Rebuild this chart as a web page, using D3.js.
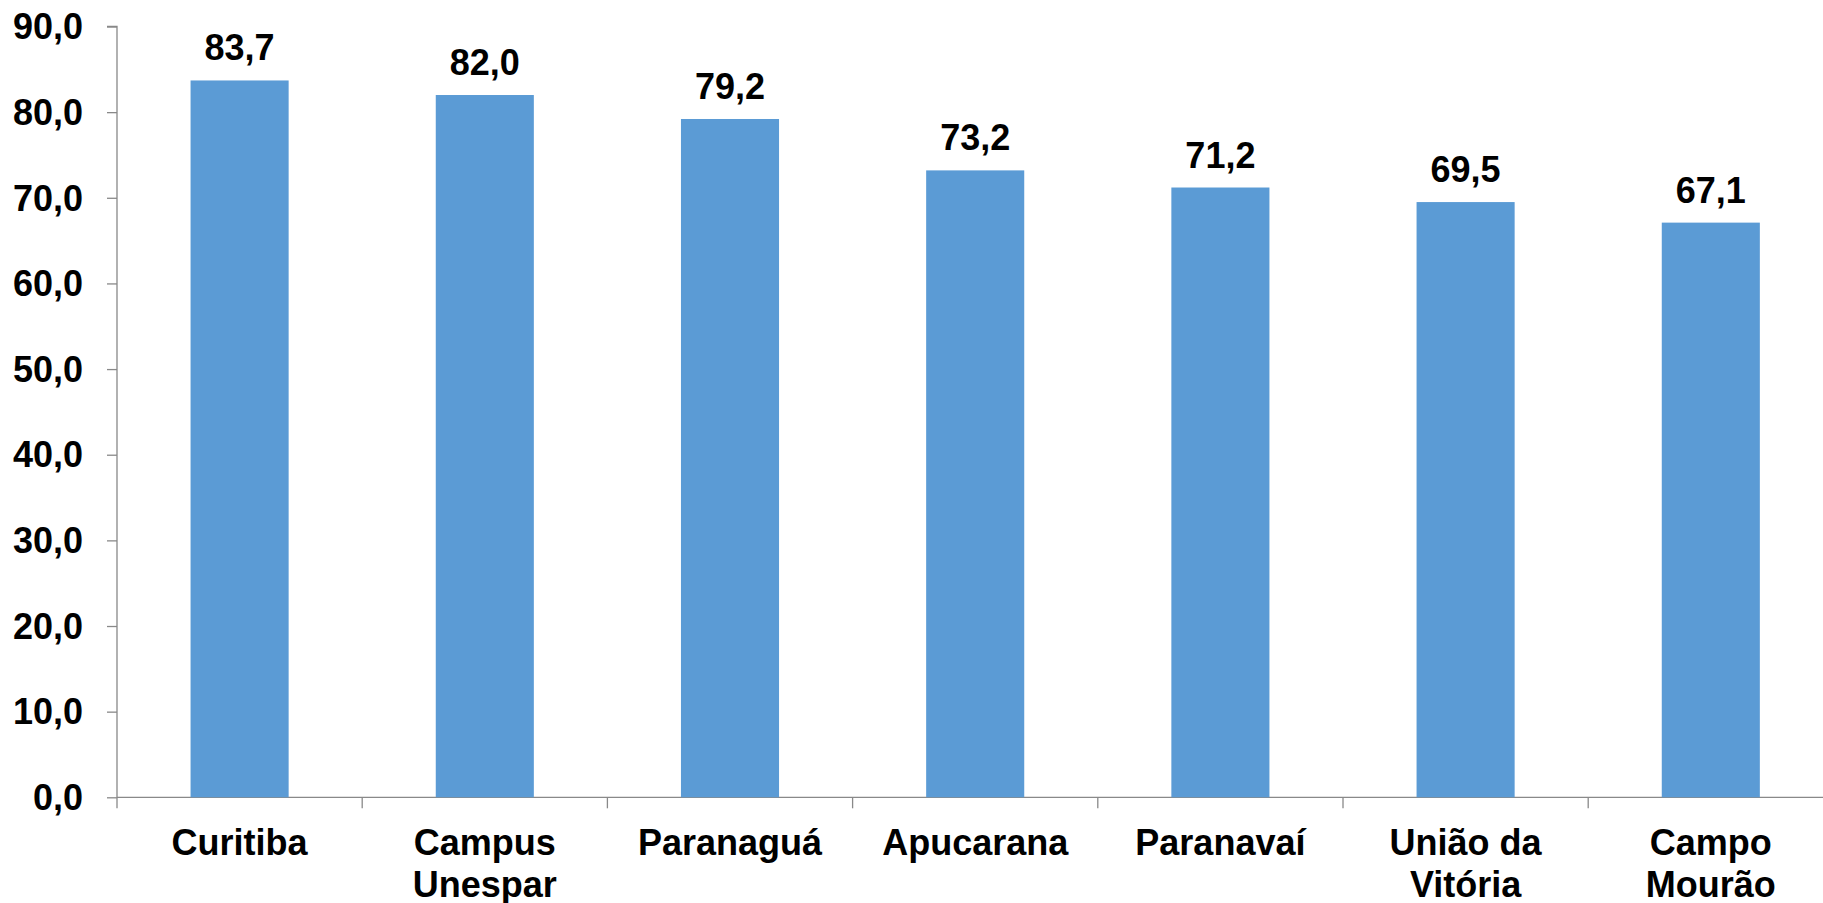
<!DOCTYPE html>
<html>
<head>
<meta charset="utf-8">
<script src="https://cdn.jsdelivr.net/npm/d3@7"></script>
<style>
  body { margin: 0; background: #fff; overflow: hidden; }
  svg text { font-family: "Liberation Sans", Arial, sans-serif; font-weight: bold; fill: #000; }
</style>
</head>
<body>
<svg id="chart"></svg>
<script>
// data
let categories = ['Curitiba', 'Campus\nUnespar', 'Paranaguá', 'Apucarana', 'Paranavaí', 'União da\nVitória', 'Campo\nMourão'];
let values = [83.7, 82.0, 79.2, 73.2, 71.2, 69.5, 67.1];
let yTicks = [0, 10, 20, 30, 40, 50, 60, 70, 80, 90];

let width = 1823, height = 903;
let margin = { left: 117, top: 26.5 };
let plotBottom = 797.3;
let plotRight = 117 + 7 * 245.2;
let fontSize = 36;
let fmt = v => d3.format('.1f')(v).replace('.', ',');

var svg = d3.select('#chart').attr('width', width).attr('height', height);

var xScale = d3.scaleBand()
  .domain(categories)
  .range([margin.left, plotRight])
  .paddingInner(0.6)
  .paddingOuter(0.3);

var yScale = d3.scaleLinear()
  .domain([0, 90])
  .range([plotBottom, margin.top]);

// y axis
var yAxis = svg.append('g')
  .attr('transform', `translate(${margin.left},0)`)
  .call(d3.axisLeft(yScale).tickValues(yTicks).tickFormat(fmt).tickSize(10).tickPadding(24));
yAxis.select('.domain').attr('stroke', '#898989').attr('stroke-width', 1.3).attr('d', `M-10,${yScale(90)}H0V${plotBottom}`);
yAxis.selectAll('.tick line').attr('stroke', '#898989').attr('stroke-width', 1.3);
yAxis.selectAll('text').attr('font-size', fontSize).attr('dy', '0.34em')
  .style('font-family', '"Liberation Sans", Arial, sans-serif').style('font-weight', 'bold');

// x axis (ticks between categories)
var xAxisG = svg.append('g').attr('transform', `translate(0,${plotBottom})`);
xAxisG.append('line')
  .attr('x1', margin.left).attr('x2', plotRight)
  .attr('stroke', '#898989').attr('stroke-width', 1.3);
let step = xScale.step();
d3.range(categories.length + 1).forEach(i => {
  let x = margin.left + i * step;
  xAxisG.append('line')
    .attr('x1', x).attr('x2', x).attr('y1', 0).attr('y2', 11)
    .attr('stroke', '#898989').attr('stroke-width', 1.3);
});

categories.forEach(c => {
  let lines = c.split('\n');
  let cx = xScale(c) + xScale.bandwidth() / 2;
  let t = svg.append('text')
    .attr('text-anchor', 'middle')
    .attr('font-size', fontSize)
    .attr('x', cx)
    .attr('y', plotBottom + 58);
  lines.forEach((l, i) => {
    t.append('tspan')
      .attr('x', cx)
      .attr('dy', i === 0 ? 0 : 42)
      .text(l);
  });
});

// bars
var groups = svg.selectAll('.bar')
  .data(values)
  .enter()
  .append('g')
  .attr('class', 'bar');

groups.append('rect')
  .attr('x', (d, i) => xScale(categories[i]))
  .attr('y', d => yScale(d))
  .attr('width', xScale.bandwidth())
  .attr('height', d => plotBottom - yScale(d))
  .attr('fill', '#5B9BD5');

groups.append('text')
  .attr('x', (d, i) => xScale(categories[i]) + xScale.bandwidth() / 2)
  .attr('y', d => yScale(d) - 20)
  .attr('text-anchor', 'middle')
  .attr('font-size', fontSize)
  .text(d => fmt(d));
</script>
</body>
</html>
